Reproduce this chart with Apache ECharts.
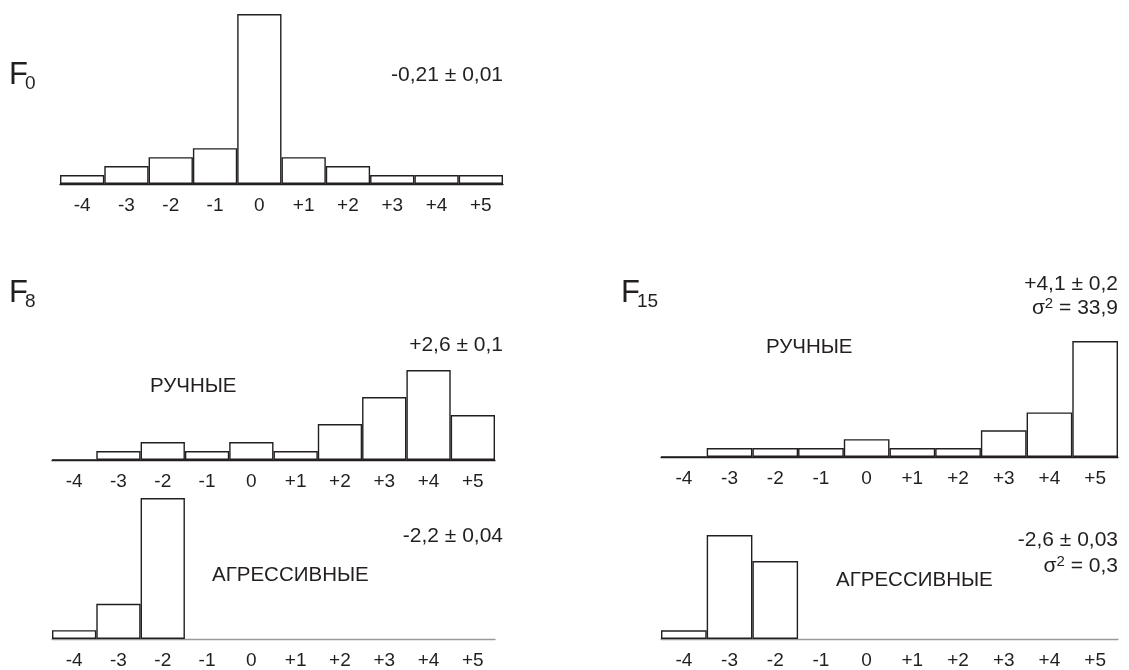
<!DOCTYPE html>
<html style="height: 100%">
<head>
    <meta charset="utf-8">
</head>
<body style="height: 100%; margin: 0; background: #fff">
<div id="container" style="width: 1129px; height: 670px"></div>

<script src="https://cdn.jsdelivr.net/npm/echarts@6/dist/echarts.min.js"></script>

<script type="text/javascript">
    // classes of the score, same for every histogram
    var categories = ['-4', '-3', '-2', '-1', '0', '+1', '+2', '+3', '+4', '+5'];

    // bar heights (relative units)
    var f0 = [1, 2, 3, 4, 19, 3, 2, 1, 1, 1];
    var f8Tame = [0, 1, 2, 1, 2, 1, 4, 7, 10, 5];
    var f8Aggr = [1, 4, 16, null, null, null, null, null, null, null];
    var f15Tame = [0, 1, 1, 1, 2, 1, 1, 3, 5, 13];
    var f15Aggr = [1, 12, 9, null, null, null, null, null, null, null];

    var FONT = '"Liberation Sans", Arial, sans-serif';
    var INK = '#231f20';

    var dom = document.getElementById('container');
    var myChart = echarts.init(dom, null, {renderer: 'canvas'});

    // one grid per histogram: left, right, top, bottom, y max, axis colour
    var panels = [
        {data: f0,      left: 60,  right: 626, top: 14,  bottom: 486, max: 19, axis: INK},
        {data: f8Tame,  left: 52,  right: 634, top: 370, bottom: 210, max: 10, axis: INK},
        {data: f8Aggr,  left: 52,  right: 634, top: 498, bottom: 29,  max: 16, axis: '#9a9a9a'},
        {data: f15Tame, left: 661, right: 11,  top: 341, bottom: 213, max: 13, axis: INK},
        {data: f15Aggr, left: 661, right: 11,  top: 535, bottom: 29,  max: 12, axis: '#9a9a9a'}
    ];

    var grids = [], xAxes = [], yAxes = [], series = [];
    panels.forEach(function (p, i) {
        grids.push({left: p.left, right: p.right, top: p.top, bottom: p.bottom});
        xAxes.push({
            type: 'category',
            gridIndex: i,
            data: categories,
            axisLine: {lineStyle: {color: p.axis, width: 1.3}},
            axisTick: {length: 7, lineStyle: {color: p.axis, width: 1.3}},
            axisLabel: {interval: 0, margin: 12, fontSize: 19, fontFamily: FONT, color: INK}
        });
        yAxes.push({type: 'value', gridIndex: i, min: 0, max: p.max, show: false, splitLine: {show: false}});
        series.push({
            type: 'bar',
            xAxisIndex: i,
            yAxisIndex: i,
            data: p.data,
            barCategoryGap: '0%',
            silent: true,
            itemStyle: {color: '#fff', borderColor: INK, borderWidth: 1.4}
        });
    });

    function txt(x, y, s, size, align) {
        return {
            type: 'text',
            x: x,
            y: y,
            style: {
                text: s,
                fontSize: size,
                fontFamily: FONT,
                fill: INK,
                align: align || 'left',
                verticalAlign: 'middle'
            }
        };
    }

    // sigma squared with a raised 2
    function sigma(x, y, rest) {
        var t = txt(x, y, '{s|σ}{p|2}{s| = ' + rest + '}', 21, 'right');
        t.style.rich = {
            s: {fontSize: 21, fontFamily: FONT, fill: INK, lineHeight: 24},
            p: {fontSize: 15, fontFamily: FONT, fill: INK, verticalAlign: 'top', lineHeight: 24}
        };
        return t;
    }

    var labels = [
        txt(9, 75, 'F', 31), txt(25, 84, '0', 19),
        txt(9, 293, 'F', 31), txt(25, 302, '8', 19),
        txt(621, 293, 'F', 31), txt(637, 302, '15', 19),
        txt(503, 75, '-0,21 ± 0,01', 21, 'right'),
        txt(503, 345, '+2,6 ± 0,1', 21, 'right'),
        txt(150, 386, 'РУЧНЫЕ', 20.5),
        txt(503, 536, '-2,2 ± 0,04', 21, 'right'),
        txt(212, 575, 'АГРЕССИВНЫЕ', 20.5),
        txt(1118, 284, '+4,1 ± 0,2', 21, 'right'),
        sigma(1118, 308, '33,9'),
        txt(766, 347, 'РУЧНЫЕ', 20.5),
        txt(1118, 540, '-2,6 ± 0,03', 21, 'right'),
        sigma(1118, 566, '0,3'),
        txt(836, 580, 'АГРЕССИВНЫЕ', 20.5)
    ];

    var option = {
        animation: false,
        backgroundColor: '#fff',
        grid: grids,
        xAxis: xAxes,
        yAxis: yAxes,
        series: series,
        graphic: labels
    };

    myChart.setOption(option);
</script>
</body>
</html>
